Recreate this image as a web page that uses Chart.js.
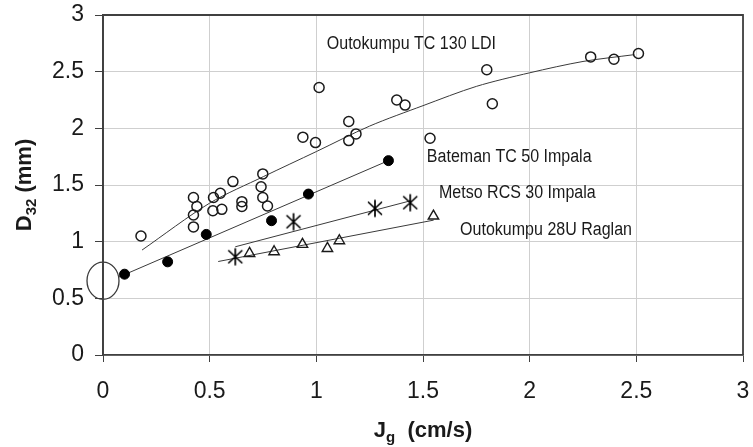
<!DOCTYPE html>
<html>
<head>
<meta charset="utf-8">
<script src="https://cdn.jsdelivr.net/npm/chart.js@4.4.1/dist/chart.umd.min.js"></script>
<style>
  html, body { margin: 0; padding: 0; background: #fff; }
</style>
</head>
<body>
<canvas id="graph" width="753" height="447"></canvas>
<script>
// Outokumpu TC 130 LDI (open circles)
const tc130X = [0.178, 0.424, 0.424, 0.424, 0.44, 0.518, 0.55, 0.515, 0.557, 0.609, 0.651, 0.651, 0.749, 0.741, 0.749, 0.771, 0.937, 0.996, 1.013, 1.152, 1.152, 1.186, 1.377, 1.416, 1.533, 1.799, 1.825, 2.286, 2.395, 2.51];
const tc130Y = [1.05, 1.13, 1.235, 1.39, 1.31, 1.39, 1.427, 1.273, 1.285, 1.53, 1.353, 1.31, 1.598, 1.485, 1.39, 1.315, 1.922, 1.874, 2.36, 2.06, 1.892, 1.951, 2.25, 2.205, 1.913, 2.517, 2.217, 2.63, 2.61, 2.66];
const tc130FitX = [0.183, 0.5, 0.752, 1.0, 1.25, 1.5, 1.75, 2.0, 2.25, 2.49];
const tc130FitY = [0.926, 1.34, 1.574, 1.795, 2.02, 2.2, 2.37, 2.49, 2.59, 2.65];

// Bateman TC 50 Impala (filled circles)
const batemanX = [0.101, 0.303, 0.484, 0.79, 0.963, 1.338];
const batemanY = [0.713, 0.822, 1.064, 1.185, 1.42, 1.715];
const batemanFitX = [0.072, 1.338];
const batemanFitY = [0.686, 1.715];

// Metso RCS 30 Impala (asterisks)
const metsoX = [0.62, 0.893, 1.275, 1.44];
const metsoY = [0.867, 1.176, 1.294, 1.344];
const metsoFitX = [0.62, 1.44];
const metsoFitY = [0.955, 1.36];

// Outokumpu 28U Raglan (open triangles)
const raglanX = [0.687, 0.802, 0.935, 1.052, 1.108, 1.549];
const raglanY = [0.896, 0.911, 0.976, 0.94, 1.008, 1.226];
const raglanFitX = [0.54, 1.55];
const raglanFitY = [0.825, 1.19];

// text notes on the plot, anchored at data coordinates (left edge, middle)
const noteText = ["Outokumpu TC 130 LDI", "Bateman TC 50 Impala", "Metso RCS 30 Impala", "Outokumpu 28U Raglan"];
const noteX = [1.049, 1.518, 1.575, 1.674];
const noteY = [2.74, 1.751, 1.427, 1.103];

// ellipse marking the Jg = 0 intercept
const ringX = 0;
const ringY = 0.655;
const ringRX = 0.075;
const ringRY = 0.164;

const FONT = "'Liberation Sans', Arial, sans-serif";
const INK = "#1a1a1a";
const LINE = "#3a3a3a";

const toPoints = (xs, ys) => xs.map((x, i) => ({ x: x, y: ys[i] }));

function makeAsterisk() {
  const c = document.createElement("canvas");
  c.width = 20;
  c.height = 20;
  const g = c.getContext("2d");
  g.strokeStyle = "#000";
  g.lineWidth = 1.7;
  g.lineCap = "round";
  g.beginPath();
  g.moveTo(10, 2); g.lineTo(10, 18);
  g.moveTo(3.5, 4); g.lineTo(16.5, 16);
  g.moveTo(16.5, 4); g.lineTo(3.5, 16);
  g.stroke();
  return c;
}

function fitLine(xs, ys, tension) {
  return {
    data: toPoints(xs, ys),
    showLine: true,
    borderColor: LINE,
    borderWidth: 1,
    pointRadius: 0,
    tension: tension || 0,
    order: 2,
  };
}

// draws text runs like D + subscript 32, centred on (x, y)
function drawRuns(ctx, runs, x, y) {
  let total = 0;
  runs.forEach((r) => {
    ctx.font = "bold " + r.size + "px " + FONT;
    r.w = ctx.measureText(r.t).width;
    total += r.w;
  });
  let cx = x - total / 2;
  runs.forEach((r) => {
    ctx.font = "bold " + r.size + "px " + FONT;
    ctx.fillText(r.t, cx, y + (r.dy || 0));
    cx += r.w;
  });
}

const decorations = {
  id: "decorations",
  afterDatasetsDraw(chart) {
    const { ctx } = chart;
    const xs = chart.scales.x;
    const ys = chart.scales.y;
    ctx.save();

    // ellipse
    const cx = xs.getPixelForValue(ringX);
    const cy = ys.getPixelForValue(ringY);
    const rx = xs.getPixelForValue(ringX + ringRX) - cx;
    const ry = cy - ys.getPixelForValue(ringY + ringRY);
    ctx.strokeStyle = LINE;
    ctx.lineWidth = 1.3;
    ctx.beginPath();
    ctx.ellipse(cx, cy, rx, ry, 0, 0, Math.PI * 2);
    ctx.stroke();

    // notes
    ctx.fillStyle = INK;
    ctx.font = "18px " + FONT;
    ctx.textBaseline = "middle";
    ctx.textAlign = "left";
    noteText.forEach((t, i) => {
      const px = xs.getPixelForValue(noteX[i]);
      const py = ys.getPixelForValue(noteY[i]);
      ctx.save();
      ctx.translate(px, py);
      ctx.scale(0.89, 1);
      ctx.fillText(t, 0, 0);
      ctx.restore();
    });
    ctx.restore();
  },
  afterDraw(chart) {
    const { ctx, chartArea: a } = chart;
    ctx.save();

    // plot frame (top and right edges too)
    ctx.strokeStyle = "#404040";
    ctx.lineWidth = 1.8;
    ctx.beginPath();
    ctx.moveTo(a.left, a.bottom);
    ctx.lineTo(a.left, a.top);
    ctx.lineTo(a.right, a.top);
    ctx.lineTo(a.right, a.bottom);
    ctx.stroke();

    ctx.fillStyle = INK;
    ctx.textAlign = "left";
    ctx.textBaseline = "alphabetic";

    // x title: Jg (cm/s)
    drawRuns(ctx, [
      { t: "J", size: 22 },
      { t: "g", size: 15, dy: 5 },
      { t: "  (cm/s)", size: 22 },
    ], (a.left + a.right) / 2, 437);

    // y title: D32 (mm)
    ctx.translate(31, (a.top + a.bottom) / 2);
    ctx.rotate(-Math.PI / 2);
    drawRuns(ctx, [
      { t: "D", size: 22 },
      { t: "32", size: 15, dy: 5 },
      { t: " (mm)", size: 22 },
    ], 0, 0);
    ctx.restore();
  },
};

const asterisk = makeAsterisk();
const plainNumber = (v) => String(v);

const config = {
  type: "scatter",
  data: {
    datasets: [
      {
        label: "Outokumpu TC 130 LDI",
        data: toPoints(tc130X, tc130Y),
        pointStyle: "circle",
        pointRadius: 5,
        borderColor: INK,
        backgroundColor: "rgba(255,255,255,0)",
        borderWidth: 1.5,
        order: 1,
      },
      {
        label: "Bateman TC 50 Impala",
        data: toPoints(batemanX, batemanY),
        pointStyle: "circle",
        pointRadius: 5,
        borderColor: "#000",
        backgroundColor: "#000",
        borderWidth: 1,
        order: 1,
      },
      {
        label: "Metso RCS 30 Impala",
        data: toPoints(metsoX, metsoY),
        pointStyle: asterisk,
        order: 1,
      },
      {
        label: "Outokumpu 28U Raglan",
        data: toPoints(raglanX, raglanY),
        pointStyle: "triangle",
        pointRadius: 6,
        borderColor: INK,
        backgroundColor: "rgba(255,255,255,0)",
        borderWidth: 1.4,
        order: 1,
      },
      fitLine(tc130FitX, tc130FitY, 0.3),
      fitLine(batemanFitX, batemanFitY),
      fitLine(metsoFitX, metsoFitY),
      fitLine(raglanFitX, raglanFitY),
    ],
  },
  options: {
    responsive: false,
    animation: false,
    layout: { padding: { top: 15, right: 10, left: 0, bottom: 0 } },
    plugins: {
      legend: { display: false },
      tooltip: { enabled: false },
    },
    scales: {
      x: {
        type: "linear",
        min: 0,
        max: 3,
        ticks: { stepSize: 0.5, color: INK, font: { family: FONT, size: 23 }, padding: 16, callback: plainNumber },
        grid: { color: "#cfcfcf", lineWidth: 1, tickLength: 7, tickColor: "#404040" },
        border: { color: "#404040", width: 1.8 },
        afterFit(scale) {
          scale.height = 92;
          scale.paddingLeft = 0;
          scale.paddingRight = 0;
        },
      },
      y: {
        type: "linear",
        min: 0,
        max: 3,
        ticks: { stepSize: 0.5, color: INK, font: { family: FONT, size: 23 }, padding: 11, callback: plainNumber },
        grid: { color: "#cfcfcf", lineWidth: 1, tickLength: 8, tickColor: "#404040" },
        border: { color: "#404040", width: 1.8 },
        afterFit(scale) {
          scale.width = 103;
          scale.paddingTop = 0;
          scale.paddingBottom = 0;
        },
      },
    },
  },
  plugins: [decorations],
};

new Chart(document.getElementById("graph"), config);
</script>
</body>
</html>
